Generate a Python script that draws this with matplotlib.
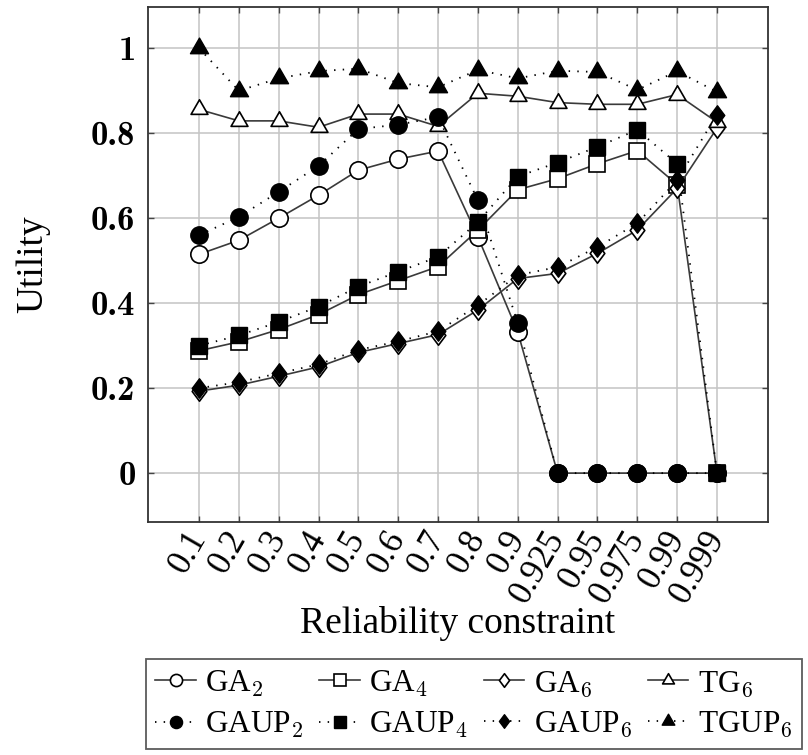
import numpy as np
import matplotlib.pyplot as plt
from matplotlib.path import Path

plt.rcParams['font.family'] = ['Liberation Serif', 'DejaVu Serif']
plt.rcParams['mathtext.fontset'] = 'cm'

# reliability constraints on the x axis
constraints = ['0.1', '0.2', '0.3', '0.4', '0.5', '0.6', '0.7', '0.8', '0.9',
               '0.925', '0.95', '0.975', '0.99', '0.999']

ga2 = [0.515, 0.548, 0.600, 0.654, 0.713, 0.739, 0.758, 0.556, 0.332, 0, 0, 0, 0, 0]
ga4 = [0.288, 0.309, 0.338, 0.373, 0.420, 0.453, 0.486, 0.572, 0.667, 0.693, 0.728, 0.759, 0.679, 0]
ga6 = [0.193, 0.207, 0.228, 0.250, 0.284, 0.305, 0.326, 0.384, 0.458, 0.470, 0.517, 0.572, 0.670, 0.812]
tg6 = [0.856, 0.829, 0.829, 0.814, 0.845, 0.845, 0.816, 0.894, 0.887, 0.872, 0.868, 0.868, 0.891, 0.826]

gaup2 = [0.560, 0.603, 0.662, 0.723, 0.810, 0.820, 0.838, 0.642, 0.353, 0, 0, 0, 0, 0]
gaup4 = [0.300, 0.324, 0.356, 0.392, 0.439, 0.474, 0.509, 0.591, 0.698, 0.731, 0.768, 0.808, 0.728, 0]
gaup6 = [0.200, 0.214, 0.235, 0.256, 0.290, 0.310, 0.334, 0.395, 0.466, 0.485, 0.532, 0.588, 0.689, 0.844]
tgup6 = [1.000, 0.900, 0.929, 0.946, 0.952, 0.918, 0.908, 0.949, 0.929, 0.947, 0.944, 0.902, 0.946, 0.897]

yticks = [0, 0.2, 0.4, 0.6, 0.8, 1]
ytick_labels = ['0', '0.2', '0.4', '0.6', '0.8', '1']

x = np.arange(len(constraints))

# pgfplots-like marks
diamond = Path([(0, 1), (0.75, 0), (0, -1), (-0.75, 0), (0, 1)],
               [Path.MOVETO, Path.LINETO, Path.LINETO, Path.LINETO, Path.CLOSEPOLY])
triangle = Path([(0, 1), (-0.866, -0.5), (0.866, -0.5), (0, 1)],
                [Path.MOVETO, Path.LINETO, Path.LINETO, Path.CLOSEPOLY])

fig = plt.figure(figsize=(8.08, 7.55), dpi=100)
ax = fig.add_axes([148/808, 1-522/755, 620/808, 515/755])

solid = dict(color='#3a3a3a', lw=1.2, linestyle='-', markeredgecolor='black',
             markeredgewidth=1.2, markerfacecolor='white')
dotted = dict(color='black', lw=1.3, linestyle=(0, (0.8, 4)), markeredgecolor='black',
              markeredgewidth=1.0, markerfacecolor='black')

series = [
    (ga2, 'o', 12.5, solid, r'GA$_\mathbf{2}$'),
    (ga4, 's', 12.0, solid, r'GA$_\mathbf{4}$'),
    (ga6, diamond, 14, solid, r'GA$_\mathbf{6}$'),
    (tg6, triangle, 14, solid, r'TG$_\mathbf{6}$'),
    (gaup2, 'o', 12.5, dotted, r'GAUP$_\mathbf{2}$'),
    (gaup4, 's', 12.0, dotted, r'GAUP$_\mathbf{4}$'),
    (gaup6, diamond, 14, dotted, r'GAUP$_\mathbf{6}$'),
    (tgup6, triangle, 15, dotted, r'TGUP$_\mathbf{6}$'),
]

lines = []
for vals, mk, ms, style, name in series:
    ln, = ax.plot(x, vals, marker=mk, markersize=ms, label=name, zorder=3, **style)
    lines.append(ln)

ax.set_xlim(-1.28, 14.28)
ax.set_ylim(-0.115, 1.097)
ax.set_xticks(x)
ax.set_xticklabels(constraints, rotation=60, ha='right', va='center',
                   rotation_mode='anchor', fontsize=25)
ax.set_yticks(yticks)
ax.set_yticklabels(ytick_labels, fontsize=25, family='cmb10')

ax.grid(True, color='#c4c4c4', lw=1.1)
ax.set_axisbelow(True)
ax.tick_params(direction='in', length=4.5, width=1.0, color='#444444',
               top=True, right=True, pad=9)
ax.tick_params(axis='x', pad=8)
for s in ax.spines.values():
    s.set_color('#333333')
    s.set_linewidth(1.3)

ax.set_xlabel('Reliability constraint', fontsize=27, labelpad=-2)
ax.set_ylabel('Utility', fontsize=27)
ax.yaxis.set_label_coords(-0.158, 0.5)

# legend: open marks on the first row, filled marks on the second
order = [0, 4, 1, 5, 2, 6, 3, 7]
leg = fig.legend([lines[i] for i in order], [series[i][4] for i in order],
                 ncol=4, loc='upper center', bbox_to_anchor=(474/808, 1-659/755),
                 fontsize=22.5, frameon=True, fancybox=False, edgecolor='#333333',
                 handlelength=1.3, handletextpad=0.3, columnspacing=0.5,
                 borderpad=0.3, labelspacing=0.35, markerscale=0.7, borderaxespad=0)
leg.get_frame().set_linewidth(1.3)

fig.savefig('out.png', dpi=100)
